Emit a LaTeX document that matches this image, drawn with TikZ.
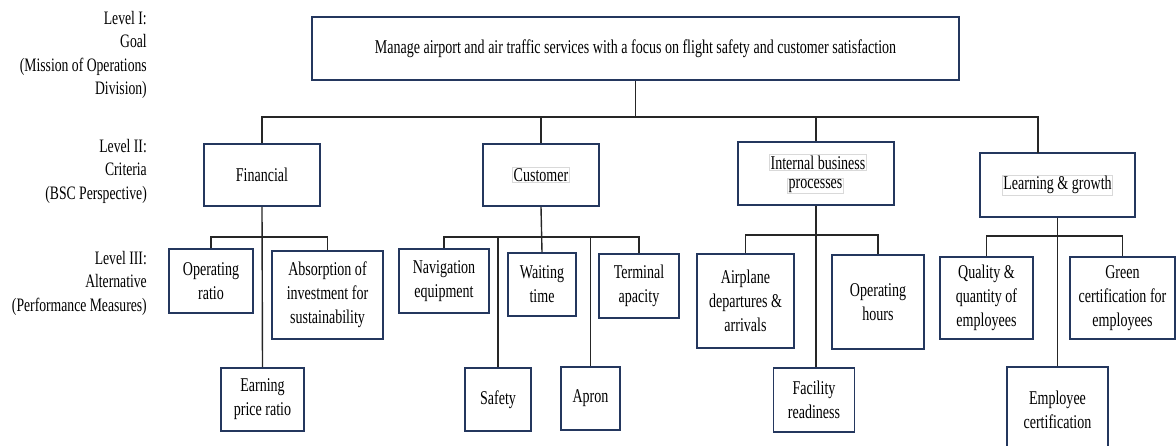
\documentclass[tikz,border=0pt]{standalone}
\usepackage{fontspec}
\setmainfont{Liberation Serif}[FakeStretch=0.72]
\definecolor{boxblue}{HTML}{24375E}

\begin{document}
\begin{tikzpicture}[
    x=1pt, y=-1pt,
    font=\fontsize{19.5}{24}\selectfont,
    box/.style={rectangle, draw=boxblue, line width=1.6pt, align=center, inner sep=2pt},
    dim/.style 2 args={minimum width=#1pt, minimum height=#2pt},
    tag/.style={rectangle, draw=black!15, line width=0.6pt, inner sep=1pt},
    lvl/.style={anchor=north east, align=right, inner sep=0pt,
                font=\fontsize{19}{23.5}\selectfont},
    link/.style={line width=1.4pt, draw=black!85}
]
  \useasboundingbox (0,0) rectangle (1176,446);
  \clip (0,0) rectangle (1176,446);

  % level labels
  \node[lvl] (lvlone) at (147,11) {Level I:\\Goal\\(Mission of Operations\\Division)};
  \node[lvl] (lvltwo) at (147,139) {Level II:\\Criteria\\(BSC Perspective)};
  \node[lvl] (lvlthree) at (147,251) {Level III:\\Alternative\\(Performance Measures)};

  % goal
  \node[box, dim={647}{63}] (goal) at (635.5,48.5)
    {Manage airport and air traffic services with a focus on flight safety and customer satisfaction};

  % criteria
  \node[box, dim={116}{62}] (fin) at (262,175) {Financial};
  \node[box, dim={116}{62}] (cust) at (541,175) {};
  \node[tag] (custtag) at (cust) {Customer};
  \node[box, dim={156}{63}] (ibp) at (816,173.5) {};
  \node[tag] (ibpone) at (818,162.5) {Internal business};
  \node[tag] (ibptwo) at (815.5,185.5) {processes};
  \node[box, dim={155}{64}] (lg) at (1057.5,185) {};
  \node[tag] (lgtag) at (lg) {Learning \&\ growth};

  % alternatives
  \node[box, dim={84}{64}] (opr) at (211,281) {Operating\\ratio};
  \node[box, dim={111}{88}] (abs) at (327.5,295) {Absorption of\\investment for\\sustainability};
  \node[box, dim={83}{63}] (epr) at (262.5,399.5) {Earning\\price ratio};
  \node[box, dim={90}{64}] (nav) at (444,281) {Navigation\\equipment};
  \node[box, dim={68}{63}] (wait) at (542,284.5) {Waiting\\time};
  \node[box, dim={66}{63}] (saf) at (498,399.5) {Safety};
  \node[box, dim={59}{63}] (apr) at (590.5,398.5) {Apron};
  \node[box, dim={80}{64}] (term) at (639,286) {Terminal\\apacity};
  \node[box, dim={97}{94}] (air) at (745.5,301) {Airplane\\departures \&\\arrivals};
  \node[box, dim={92}{94}] (oph) at (878,302) {Operating\\hours};
  \node[box, dim={81}{64}] (fac) at (814,400) {Facility\\readiness};
  \node[box, dim={93}{82}] (qq) at (986.5,298) {Quality \&\\quantity of\\employees};
  \node[box, dim={105}{82}] (gce) at (1122.5,298) {Green\\certification for\\employees};
  \node[box, dim={101}{86}] (emp) at (1057.5,410) {Employee\\certification};

  % level I -> level II
  \coordinate (bus) at (636,117);
  \coordinate (lgin) at (1038,153);
  \draw[link] (goal.south) -- (goal.south |- bus);
  \draw[link] (fin.north) |- (lgin |- bus) -- (lgin);
  \draw[link] (cust.north) -- (cust.north |- bus);
  \draw[link] (ibp.north) -- (ibp.north |- bus);

  % level II -> level III
  \draw[link] (fin.south) -- (epr.north);
  \draw[link] (opr.north) -- ++(0,-11) -| (abs.north);
  \draw[link] (cust.south) -- (wait.north);
  \draw[link] (nav.north) -- ++(0,-11) coordinate (cbus) -| (term.north);
  \draw[link] (saf.north) -- (saf.north |- cbus);
  \draw[link] (apr.north) -- (apr.north |- cbus);
  \draw[link] (air.north) -- ++(0,-18) -| (oph.north);
  \draw[link] (ibp.south) -- (ibp.south |- fac.north);
  \draw[link] (qq.north) -- ++(0,-20) -| (gce.north);
  \draw[link] (lg.south) -- (emp.north);
\end{tikzpicture}
\end{document}
